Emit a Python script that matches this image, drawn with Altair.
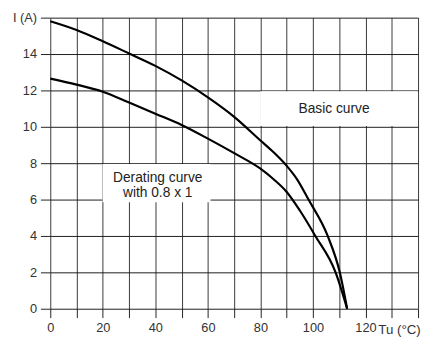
import altair as alt
import pandas as pd

# Basic curve (upper)
basic_x = [0, 10, 20, 30, 40, 50, 60, 70, 80, 85, 90, 94, 98.3, 105.6, 110.2, 113]
basic_y = [15.8, 15.32, 14.7, 14.03, 13.35, 12.55, 11.62, 10.55, 9.25, 8.6, 7.85, 7.1, 6.0, 4.0, 2.0, 0]

# Derating curve (lower)
derat_x = [0, 10, 20, 30, 40, 50, 60, 70, 80, 85, 90, 95, 100.9, 108.6, 113]
derat_y = [12.65, 12.32, 11.93, 11.33, 10.72, 10.1, 9.35, 8.55, 7.7, 7.12, 6.42, 5.4, 4.0, 2.0, 0]

x_ticks = list(range(0, 141, 10))
y_ticks = list(range(0, 17, 2))

# label boxes (x, x2, y, y2) and texts
box_x = [79.9, 19.9]
box_x2 = [139.8, 61]
box_y = [10.05, 5.85]
box_y2 = [11.95, 7.95]

labels_text = ["Basic curve", "Derating curve", "with 0.8 x 1"]
labels_x = [108, 40.9, 40.9]
labels_y = [10.97, 7.19, 6.38]

FONT = "Liberation Sans"

xs = alt.Scale(domain=[0, 140], nice=False, zero=False)
ys = alt.Scale(domain=[0, 16], nice=False, zero=False)

df_basic = pd.DataFrame({"x": basic_x, "y": basic_y})
df_derat = pd.DataFrame({"x": derat_x, "y": derat_y})
df_box = pd.DataFrame({"x": box_x, "x2": box_x2, "y": box_y, "y2": box_y2})
df_lab = pd.DataFrame({"t": labels_text, "x": labels_x, "y": labels_y})
df_tu = pd.DataFrame({"t": ["Tu (°C)"], "x": [120], "y": [0]})

xaxis = alt.Axis(
    values=x_ticks, grid=True, gridColor="#222", gridWidth=1, gridOpacity=0.9,
    domain=False, ticks=True, tickSize=9, tickColor="#222", tickWidth=1,
    labelExpr="datum.value % 20 == 0 && datum.value <= 120 ? datum.label : ''",
    labelFont=FONT, labelFontSize=13, labelColor="#333", labelPadding=4,
    labelFlush=False, labelOverlap=False, title=None,
)
yaxis = alt.Axis(
    values=y_ticks, grid=True, gridColor="#111", gridWidth=1, gridOpacity=0.95,
    domain=False, ticks=True, tickSize=10, tickColor="#222", tickWidth=1,
    labelExpr="datum.value == 16 ? 'I (A)' : datum.label",
    labelFont=FONT, labelFontSize=13, labelColor="#333", labelPadding=4,
    labelFlush=False, labelOverlap=False, title=None,
)

X = lambda f="x:Q": alt.X(f, scale=xs, axis=xaxis)
Y = lambda f="y:Q": alt.Y(f, scale=ys, axis=yaxis)

boxes = alt.Chart(df_box).mark_rect(fill="white", stroke=None).encode(
    x=X(), x2="x2:Q", y=Y(), y2="y2:Q",
)

line_basic = alt.Chart(df_basic).mark_line(
    color="black", strokeWidth=2.2, interpolate="monotone"
).encode(x=X(), y=Y())

line_derat = alt.Chart(df_derat).mark_line(
    color="black", strokeWidth=2.2, interpolate="monotone"
).encode(x=X(), y=Y())

texts = alt.Chart(df_lab).mark_text(
    font=FONT, fontSize=14, color="#222", align="center", baseline="middle"
).encode(x=X(), y=Y(), text="t:N")

tu = alt.Chart(df_tu).mark_text(
    font=FONT, fontSize=13.5, color="#333", align="left", baseline="middle",
    dx=13, dy=22
).encode(x=X(), y=Y(), text="t:N")

chart = alt.layer(boxes, line_basic, line_derat, texts, tu).properties(
    width=374, height=296,
    padding={"left": 43, "top": 7, "right": 4, "bottom": 30},
    autosize=alt.AutoSizeParams(type="none"),
    background="white",
).configure_view(stroke=None)

chart.save("out.html", embed_options={"renderer": "svg", "actions": False})
